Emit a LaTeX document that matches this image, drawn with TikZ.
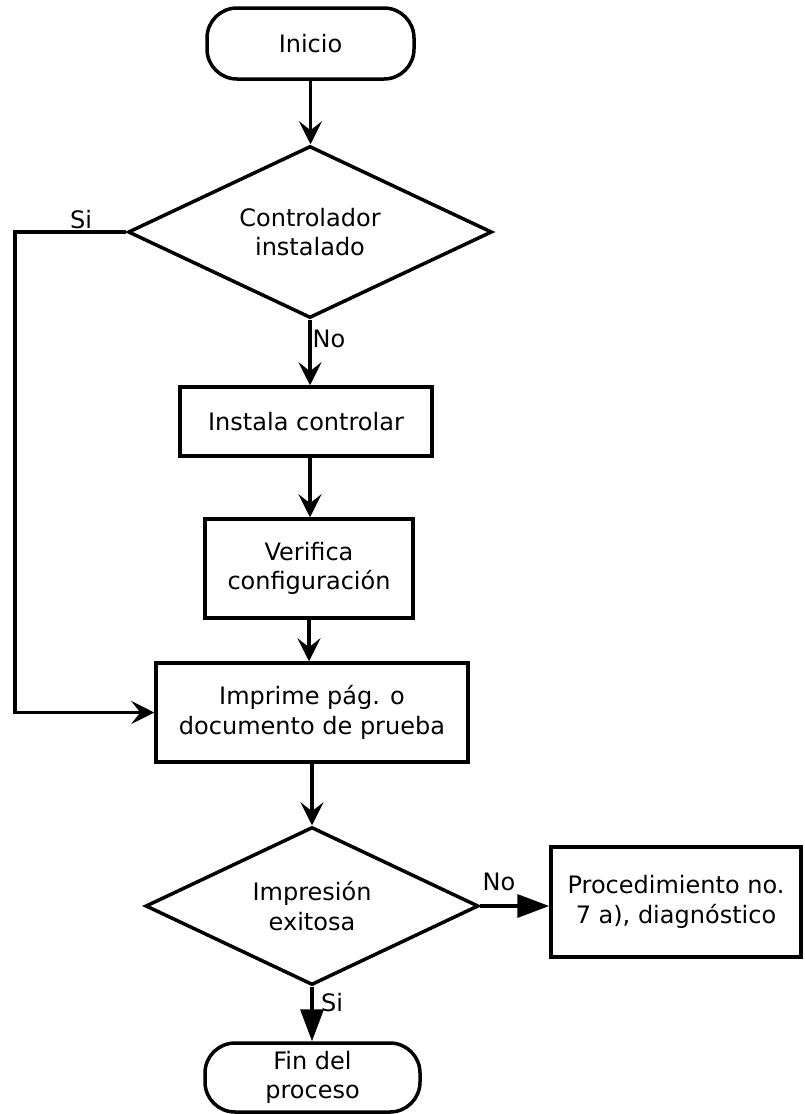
\documentclass[tikz,border=0pt]{standalone}
\usepackage{fontspec}
\setmainfont{DejaVu Sans}
\usetikzlibrary{shapes.geometric,arrows.meta}
\begin{document}
\begin{tikzpicture}[x=1pt,y=-1pt,
  every node/.style={font=\fontsize{24}{29.5}\selectfont, align=center, inner sep=0pt},
  box/.style={draw, line width=3.5pt, rectangle},
  term/.style={draw, line width=3.5pt, rectangle, rounded corners=30pt},
  dec/.style={draw, line width=3.5pt, diamond, aspect=2},
  conn/.style={line width=3.5pt},
  barb/.style={conn, -{Stealth[length=23pt,width=23pt,inset=9pt]}},
  tri/.style={conn, -{Triangle[length=32pt,width=23pt]}},
  lbl/.style={font=\fontsize{24}{28}\selectfont}
]
\useasboundingbox (0,0) rectangle (804,1114);

\node[term, minimum width=207pt, minimum height=71pt] (ini) at (310.5,43.5) {Inicio};
\node[dec, minimum width=364pt, minimum height=172pt] (d1) at (310,232) {Controlador\\instalado};
\node[box, minimum width=252pt, minimum height=69pt] (b2) at (306,421.5) {Instala controlar};
\node[box, minimum width=208pt, minimum height=99pt] (b3) at (309,568.5) {Verifica\\configuración};
\node[box, minimum width=312pt, minimum height=99pt] (b4) at (312,712.5) {Imprime pág. o\\documento de prueba};
\node[dec, minimum width=333pt, minimum height=158pt] (d2) at (312,906) {Impresión\\exitosa};
\node[box, minimum width=250pt, minimum height=110pt] (b5) at (676,902) {Procedimiento no.\\7 a), diagnóstico};
\node[term, minimum width=215pt, minimum height=69pt] (fin) at (312.5,1077.5) {Fin del\\proceso};

\coordinate (L) at (15,232);

\draw[barb] (ini.south) -- (ini.south |- d1.north);
\draw[barb] (d1.south) -- (d1.south |- b2.north);
\draw[barb] (b2.south -| d1.south) -- (d1.south |- b3.north);
\draw[barb] (b3.south) -- (b3.south |- b4.north);
\draw[barb] (b4.south) -- (b4.south |- d2.north);
\draw[barb] (d1.west) -- (L) |- (b4.west);
\draw[tri] (d2.east) -- (d2.east -| b5.west);
\draw[tri] (d2.south) -- (d2.south |- fin.north);

\node[lbl] (si1) at (81,220) {Si};
\node[lbl] (no1) at (329,339) {No};
\node[lbl] (no2) at (499,882) {No};
\node[lbl] (si2) at (332,1003) {Si};
\end{tikzpicture}
\end{document}
